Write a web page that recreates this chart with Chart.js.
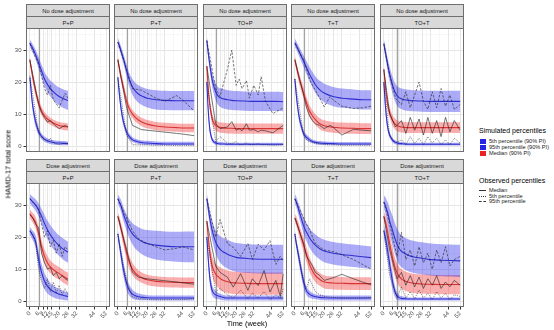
<!DOCTYPE html>
<html><head><meta charset="utf-8">
<script src="https://cdn.jsdelivr.net/npm/chart.js@4.4.1/dist/chart.umd.min.js"></script>
<style>
body{margin:0;background:#fff;width:554px;height:330px;overflow:hidden;position:relative;font-family:"Liberation Sans",Arial,sans-serif;}
canvas{position:absolute;}
.strip{position:absolute;box-sizing:border-box;background:#D9D9D9;border:1px solid #6E6E6E;color:#1A1A1A;font-size:5.8px;display:flex;align-items:center;justify-content:center;white-space:nowrap;}
.txt{position:absolute;white-space:nowrap;color:#000;}
.key{position:absolute;width:6px;height:5px;}
.lkey{position:absolute;width:7px;height:0;}
.lab{position:absolute;font-size:5.6px;line-height:6px;white-space:nowrap;color:#1A1A1A;}
</style></head><body>
<script>
// ---------------- data ----------------
const rowLabels = ["No dose adjustment", "Dose adjustment"];
const colLabels = ["P+P", "P+T", "TO+P", "T+T", "TO+T"];
const xMajorTicks = [0, 6, 9, 12, 15, 20, 26, 32, 44, 52];
const xMinorTicks = [3, 7.5, 10.5, 13.5, 17.5, 23, 29, 38, 48];
const yMajorTicks = [0, 10, 20, 30];
const yMinorTicks = [5, 15, 25, 35];
const refWeeks = [6, 6, 6, 6, 9];

const W26 = [0, 2, 4, 6, 8, 10, 12, 14, 17, 20, 23, 26];
const W52 = [0, 1, 2, 3, 4, 6, 8, 10, 12, 14, 17, 20, 26, 32, 40, 46, 52];

// No dose adjustment, P+P
const ndPP_p95 = [32.2, 30.5, 28.5, 26, 23.5, 21, 19.3, 18, 16.6, 15.5, 14.8, 14.3];
const ndPP_p95lo = [31, 29.2, 27, 24.2, 21.5, 18.8, 16.9, 15.5, 13.9, 12.7, 11.9, 11.3];
const ndPP_p95hi = [33.4, 31.8, 30, 27.8, 25.5, 23.2, 21.7, 20.5, 19.3, 18.3, 17.7, 17.3];
const ndPP_p50 = [27, 21.5, 17, 13.5, 11, 9.5, 8.5, 7.8, 7, 6.5, 6.2, 6];
const ndPP_p50lo = [25.8, 20.1, 15.5, 12.1, 9.7, 8.3, 7.3, 6.7, 5.9, 5.4, 5.1, 4.9];
const ndPP_p50hi = [28.2, 22.9, 18.5, 14.9, 12.3, 10.7, 9.7, 8.9, 8.1, 7.6, 7.3, 7.1];
const ndPP_p5 = [21.5, 12.5, 7.5, 4.6, 3.1, 2.2, 1.7, 1.4, 1.1, 1, 0.9, 0.8];
const ndPP_p5lo = [20.2, 10.8, 6, 3.5, 2.2, 1.4, 1, 0.7, 0.5, 0.4, 0.3, 0.3];
const ndPP_p5hi = [22.8, 14.2, 9, 5.8, 4, 3, 2.5, 2.1, 1.8, 1.7, 1.6, 1.5];
const ndPP_obsW = [0, 6, 8, 10, 12, 14, 16, 20, 24, 26];
const ndPP_obs95 = [32, 25.5, 22, 18, 16, 19, 14.5, 12, 16.5, 15];
const ndPP_obsMed = [27, 13, 10.5, 9, 7.5, 8, 7, 5.5, 6.5, 6];
const ndPP_obs5 = [22, 4, 3, 2, 1.5, 2.5, 1, 0.5, 1, 0.8];

// No dose adjustment, P+T
const ndPT_p95 = [32.5, 31.5, 30, 28.5, 27, 23.5, 20.5, 18.5, 17.2, 16.3, 15.5, 15, 14.5, 14.3, 14.2, 14.2, 14.2];
const ndPT_p95lo = [31.2, 30.2, 28.6, 27, 25.4, 21.6, 18.3, 16.1, 14.6, 13.6, 12.7, 12.1, 11.5, 11.3, 11.2, 11.2, 11.2];
const ndPT_p95hi = [33.8, 32.8, 31.4, 30, 28.6, 25.4, 22.7, 20.9, 19.8, 19, 18.3, 17.9, 17.5, 17.3, 17.2, 17.2, 17.2];
const ndPT_p50 = [27, 24.5, 22, 20, 18, 14, 11.5, 10, 9, 8.2, 7.4, 6.9, 6.3, 6, 5.8, 5.7, 5.7];
const ndPT_p50lo = [25.8, 23.2, 20.6, 18.5, 16.5, 12.5, 10.1, 8.7, 7.7, 6.9, 6.1, 5.6, 5, 4.7, 4.5, 4.4, 4.4];
const ndPT_p50hi = [28.2, 25.8, 23.4, 21.5, 19.5, 15.5, 12.9, 11.3, 10.3, 9.5, 8.7, 8.2, 7.6, 7.3, 7.1, 7, 7];
const ndPT_p5 = [21.5, 16.5, 12.5, 9.5, 7.3, 4.4, 2.9, 2, 1.6, 1.3, 1.1, 1, 0.8, 0.7, 0.7, 0.7, 0.7];
const ndPT_p5lo = [20.2, 15, 11, 8.1, 6, 3.4, 2, 1.3, 1, 0.7, 0.5, 0.4, 0.3, 0.3, 0.3, 0.3, 0.3];
const ndPT_p5hi = [22.8, 18, 14, 11, 8.6, 5.5, 3.8, 2.8, 2.3, 2, 1.8, 1.7, 1.5, 1.4, 1.4, 1.4, 1.4];
const ndPT_obsW = [0, 6, 10, 16, 20, 26, 32, 40, 44, 52];
const ndPT_obs95 = [32.5, 24, 18, 17.5, 16.5, 15, 14, 15.8, 14.5, 11];
const ndPT_obsMed = [27, 12, 6.5, 5.2, 5, 4.7, 4.4, 4, 3.8, 3.3];
const ndPT_obs5 = [21.5, 3.5, 0.5, 0.4, 0.4, 0.3, 0.3, 0.2, 0.2, 0.2];

// No dose adjustment, TO+P
const ndTOP_p95 = [33, 29, 25.5, 22.5, 20, 17, 15.5, 15, 14.7, 14.5, 14.3, 14.2, 14.1, 14, 14, 14, 13.9];
const ndTOP_p95lo = [31.5, 27.4, 23.7, 20.5, 17.8, 14.4, 12.7, 12, 11.7, 11.5, 11.3, 11.2, 11.1, 11, 11, 11, 10.9];
const ndTOP_p95hi = [34.5, 30.6, 27.3, 24.5, 22.2, 19.6, 18.3, 18, 17.7, 17.5, 17.3, 17.2, 17.1, 17, 17, 17, 16.9];
const ndTOP_p50 = [25, 18, 13, 10, 8, 6.5, 6, 5.8, 5.7, 5.6, 5.6, 5.5, 5.5, 5.5, 5.5, 5.5, 5.5];
const ndTOP_p50lo = [23.5, 16.4, 11.4, 8.4, 6.4, 4.9, 4.4, 4.2, 4.1, 4, 4, 3.9, 3.9, 3.9, 3.9, 3.9, 3.9];
const ndTOP_p50hi = [26.5, 19.6, 14.6, 11.6, 9.6, 8.1, 7.6, 7.4, 7.3, 7.2, 7.2, 7.1, 7.1, 7.1, 7.1, 7.1, 7.1];
const ndTOP_p5 = [20, 11, 5.5, 3, 1.8, 1, 0.8, 0.7, 0.7, 0.6, 0.6, 0.6, 0.6, 0.6, 0.6, 0.6, 0.6];
const ndTOP_p5lo = [18.5, 9.5, 4.3, 2.1, 1.1, 0.5, 0.3, 0.3, 0.3, 0.2, 0.2, 0.2, 0.2, 0.2, 0.2, 0.2, 0.2];
const ndTOP_p5hi = [21.5, 12.5, 6.8, 4, 2.6, 1.6, 1.4, 1.3, 1.2, 1.1, 1.1, 1.1, 1.1, 1.1, 1.1, 1.1, 1.1];
const ndTOP_obsW = [0, 6, 9, 14, 17, 20, 22, 24, 27, 29, 32, 35, 37, 40, 45, 52];
const ndTOP_obs95 = [33, 18, 15.5, 24, 30, 19, 21, 18, 20.5, 15, 19, 16, 21.7, 14, 10.2, 12];
const ndTOP_obsMed = [25, 7, 5.5, 6, 7.7, 5, 5.5, 4.8, 7, 5, 5.2, 4.5, 5, 4.8, 4.2, 6.5];
const ndTOP_obs5 = [20, 1.5, 3, 1, 0.8, 1.5, 0.5, 0.5, 1, 0.5, 0.5, 0.8, 0.5, 0.5, 0.3, 0.5];

// No dose adjustment, T+T
const ndTT_p95 = [32.3, 31.5, 30.5, 29.5, 28.5, 26.5, 24.5, 22.5, 20.8, 19.2, 17.6, 16.6, 15.5, 15, 14.7, 14.5, 14.5];
const ndTT_p95lo = [31, 30.2, 29.1, 28, 26.9, 24.7, 22.5, 20.3, 18.4, 16.6, 14.8, 13.7, 12.5, 12, 11.7, 11.5, 11.5];
const ndTT_p95hi = [33.6, 32.8, 31.9, 31, 30.1, 28.3, 26.5, 24.7, 23.2, 21.8, 20.4, 19.5, 18.5, 18, 17.7, 17.5, 17.5];
const ndTT_p50 = [27, 25, 23, 21, 19.5, 16.5, 13.5, 11, 9.5, 8.3, 7, 6.4, 5.9, 5.7, 5.6, 5.5, 5.5];
const ndTT_p50lo = [25.7, 23.6, 21.5, 19.4, 17.8, 14.7, 11.7, 9.2, 7.8, 6.6, 5.3, 4.7, 4.2, 4, 3.9, 3.8, 3.8];
const ndTT_p50hi = [28.3, 26.4, 24.5, 22.6, 21.2, 18.3, 15.3, 12.8, 11.2, 10, 8.7, 8.1, 7.6, 7.4, 7.3, 7.2, 7.2];
const ndTT_p5 = [21, 16, 12, 9, 7, 4, 2.8, 2, 1.5, 1.2, 1, 0.9, 0.8, 0.7, 0.7, 0.7, 0.7];
const ndTT_p5lo = [19.7, 14.5, 10.5, 7.6, 5.7, 3, 1.9, 1.3, 0.9, 0.6, 0.4, 0.4, 0.3, 0.3, 0.3, 0.3, 0.3];
const ndTT_p5hi = [22.3, 17.5, 13.5, 10.4, 8.3, 5, 3.7, 2.8, 2.1, 1.8, 1.6, 1.5, 1.4, 1.3, 1.3, 1.3, 1.3];
const ndTT_obsW = [0, 6, 8, 10, 12, 14, 17, 20, 24, 26, 32, 40, 46, 52];
const ndTT_obs95 = [32, 27, 24, 21, 19, 17.5, 15, 12.3, 15.5, 14.5, 12.5, 11.8, 12, 12.5];
const ndTT_obsMed = [27, 16, 12, 9.5, 8, 7, 6.5, 5.5, 6.5, 6, 3.5, 5.3, 5, 4.8];
const ndTT_obs5 = [21, 3.5, 2, 1.5, 1.2, 1, 0.8, 0.5, 0.5, 0.5, 0.3, 0.3, 0.3, 0.3];

// No dose adjustment, TO+T
const ndTOT_p95 = [32, 29.5, 27, 24.5, 22.5, 19, 16.5, 15.3, 14.8, 14.5, 14.3, 14.2, 14.1, 14, 14, 14, 14];
const ndTOT_p95lo = [30.5, 27.8, 25.1, 22.4, 20.2, 16.4, 13.6, 12.2, 11.6, 11.2, 11, 10.9, 10.8, 10.7, 10.7, 10.7, 10.7];
const ndTOT_p95hi = [33.5, 31.2, 28.9, 26.6, 24.8, 21.6, 19.4, 18.4, 18, 17.8, 17.6, 17.5, 17.4, 17.3, 17.3, 17.3, 17.3];
const ndTOT_p50 = [24, 19, 15, 12, 10.5, 8, 6.8, 6.2, 6, 5.9, 5.8, 5.8, 5.8, 5.8, 5.8, 5.8, 5.8];
const ndTOT_p50lo = [22.5, 17.4, 13.3, 10.3, 8.8, 6.3, 5.1, 4.5, 4.3, 4.2, 4.1, 4.1, 4.1, 4.1, 4.1, 4.1, 4.1];
const ndTOT_p50hi = [25.5, 20.6, 16.7, 13.7, 12.2, 9.7, 8.5, 7.9, 7.7, 7.6, 7.5, 7.5, 7.5, 7.5, 7.5, 7.5, 7.5];
const ndTOT_p5 = [20, 13, 8, 5, 3.5, 1.9, 1.2, 0.9, 0.8, 0.7, 0.6, 0.6, 0.6, 0.6, 0.6, 0.6, 0.6];
const ndTOT_p5lo = [18.5, 11.5, 6.7, 4, 2.6, 1.2, 0.6, 0.4, 0.3, 0.3, 0.2, 0.2, 0.2, 0.2, 0.2, 0.2, 0.2];
const ndTOT_p5hi = [21.5, 14.5, 9.3, 6, 4.4, 2.6, 1.8, 1.4, 1.3, 1.2, 1.1, 1.1, 1.1, 1.1, 1.1, 1.1, 1.1];
const ndTOT_obsW = [0, 4, 8, 12, 15, 18, 21, 24, 27, 30, 33, 36, 39, 42, 45, 48, 52];
const ndTOT_obs95 = [32, 22, 15, 13, 17, 12, 16, 20, 14, 11.5, 17, 12, 18, 12.5, 16, 11.5, 13];
const ndTOT_obsMed = [24, 10, 6, 8, 4, 9, 5, 8.5, 3.5, 9, 4, 8, 3, 9, 4.5, 8, 5];
const ndTOT_obs5 = [20, 3, 1, 2, 0.5, 3, 0.8, 2.5, 0.5, 3, 1, 2.5, 0.5, 2, 0.5, 2.5, 1];

// Dose adjustment, P+P
const daPP_p95 = [32, 31, 30, 28.5, 26.5, 24.3, 22.3, 20.7, 18.8, 17.3, 16.2, 15.3];
const daPP_p95lo = [30.5, 29.4, 28.2, 26.5, 24.2, 21.7, 19.5, 17.7, 15.7, 14.1, 12.9, 12];
const daPP_p95hi = [33.5, 32.6, 31.8, 30.5, 28.8, 26.9, 25.1, 23.7, 21.9, 20.5, 19.5, 18.6];
const daPP_p50 = [27.3, 26, 24.5, 21, 17, 14, 12, 10.7, 9.5, 8.7, 7.7, 6.9];
const daPP_p50lo = [26, 24.5, 22.7, 19, 14.8, 11.8, 9.9, 8.7, 7.5, 6.7, 5.7, 4.9];
const daPP_p50hi = [28.6, 27.5, 26.3, 23, 19.2, 16.2, 14.1, 12.7, 11.5, 10.7, 9.7, 8.9];
const daPP_p5 = [22, 20.5, 18.5, 13, 9, 6.3, 4.7, 3.7, 2.8, 2.2, 1.8, 1.5];
const daPP_p5lo = [20.8, 19, 16.5, 10.5, 6.4, 3.8, 2.4, 1.7, 1, 0.6, 0.4, 0.2];
const daPP_p5hi = [23.2, 22, 20.5, 15.5, 11.6, 8.8, 7, 5.7, 4.6, 3.8, 3.2, 2.8];
const daPP_obsW = [0, 2, 4, 6, 8, 10, 12, 14, 16, 18, 20, 22, 24, 26];
const daPP_obs95 = [32, 31, 30, 28.5, 24, 20, 22, 17, 19, 15, 18, 14, 17, 16];
const daPP_obsMed = [27, 26, 24, 23, 15, 12, 10, 10.5, 8, 9, 7, 8, 7, 6.5];
const daPP_obs5 = [22, 21, 18, 10, 6, 4, 7, 3, 6, 2.5, 5, 2, 4, 2];

// Dose adjustment, P+T
const daPT_p95 = [32, 31, 30, 28.5, 27, 24.5, 22.5, 21, 20, 19.3, 18.5, 18, 17.5, 17.2, 17, 17, 17];
const daPT_p95lo = [30.5, 29.4, 28.2, 26.5, 24.8, 21.9, 19.5, 17.7, 16.4, 15.5, 14.5, 13.8, 13, 12.6, 12.3, 12.2, 12.2];
const daPT_p95hi = [33.5, 32.6, 31.8, 30.5, 29.2, 27.1, 25.5, 24.3, 23.6, 23.1, 22.5, 22.2, 22, 21.8, 21.7, 21.8, 21.8];
const daPT_p50 = [26.5, 25, 23, 21, 19, 15, 12, 10, 8.8, 8, 7.2, 6.7, 6.2, 6, 5.9, 5.8, 5.8];
const daPT_p50lo = [25.2, 23.5, 21.3, 19.1, 17, 12.9, 10, 8.1, 7, 6.3, 5.6, 5.1, 4.6, 4.4, 4.3, 4.2, 4.2];
const daPT_p50hi = [27.8, 26.5, 24.7, 22.9, 21, 17.1, 14, 11.9, 10.6, 9.7, 8.8, 8.3, 7.8, 7.6, 7.5, 7.4, 7.4];
const daPT_p5 = [21, 18, 15, 12, 9.5, 5.5, 3.3, 2.2, 1.7, 1.4, 1.2, 1.1, 1, 1, 1, 1, 1];
const daPT_p5lo = [19.8, 16.5, 13.2, 10, 7.4, 3.5, 1.6, 0.8, 0.5, 0.4, 0.3, 0.3, 0.2, 0.2, 0.2, 0.2, 0.2];
const daPT_p5hi = [22.2, 19.5, 16.8, 14, 11.6, 7.5, 5, 3.6, 2.9, 2.4, 2.1, 1.9, 1.8, 1.8, 1.8, 1.8, 1.8];
const daPT_obsW = [0, 6, 10, 14, 20, 26, 32, 40, 44, 52];
const daPT_obs95 = [32, 26, 22, 19.5, 18, 17, 16, 16.5, 17, 16];
const daPT_obsMed = [26.5, 16, 9, 7.5, 7, 6.7, 6.4, 6, 5.8, 5.3];
const daPT_obs5 = [21, 6, 1.5, 0.8, 0.6, 0.5, 0.5, 0.5, 0.5, 0.8];

// Dose adjustment, TO+P
const daTOP_p95 = [32, 29, 26, 23.5, 21.5, 18.5, 16.8, 15.8, 15.2, 14.7, 14.1, 13.7, 13.4, 13.2, 13.1, 13.1, 13.1];
const daTOP_p95lo = [30.4, 27, 23.6, 20.7, 18.4, 14.9, 12.8, 11.6, 10.8, 10.2, 9.6, 9.2, 8.9, 8.7, 8.6, 8.6, 8.6];
const daTOP_p95hi = [33.6, 31, 28.4, 26.3, 24.6, 22.1, 20.8, 20, 19.6, 19.2, 18.6, 18.2, 17.9, 17.7, 17.6, 17.6, 17.6];
const daTOP_p50 = [25, 20, 15.5, 12.5, 10.5, 8.5, 7.5, 6.8, 6.4, 6.1, 5.8, 5.7, 5.6, 5.5, 5.5, 5.5, 5.5];
const daTOP_p50lo = [23.4, 18, 13, 9.7, 7.5, 5.3, 4.1, 3.3, 2.9, 2.6, 2.3, 2.2, 2.1, 2, 2, 2, 2];
const daTOP_p50hi = [26.6, 22, 18, 15.3, 13.5, 11.7, 10.9, 10.3, 9.9, 9.6, 9.3, 9.2, 9.1, 9, 9, 9, 9];
const daTOP_p5 = [20, 13, 7.5, 4.5, 3, 2, 1.6, 1.3, 1.1, 1, 1, 1, 1, 1, 1, 1, 1];
const daTOP_p5lo = [18.5, 11, 5.5, 2.7, 1.5, 0.8, 0.6, 0.4, 0.3, 0.2, 0.2, 0.2, 0.2, 0.2, 0.2, 0.2, 0.2];
const daTOP_p5hi = [21.5, 15, 9.5, 6.3, 4.5, 3.2, 2.6, 2.2, 1.9, 1.8, 1.8, 1.8, 1.8, 1.8, 1.8, 1.8, 1.8];
const daTOP_obsW = [0, 6, 9, 14, 18, 23, 28, 31, 35, 39, 43, 47, 50, 52];
const daTOP_obs95 = [32, 20, 25.5, 18, 16.8, 14, 18, 13, 17.8, 16, 18.9, 11.5, 14, 12.6];
const daTOP_obsMed = [25, 11, 9, 7.5, 4.4, 8.6, 3.4, 7, 4.9, 9.6, 2.9, 6.5, 1.5, 8.5];
const daTOP_obs5 = [20, 3, 4, 2, 1, 3.5, 0.8, 2.5, 1, 3, 0.5, 2, 1, 4];

// Dose adjustment, T+T
const daTT_p95 = [32, 31, 29.5, 28, 26.5, 23.5, 21.5, 19.8, 18.5, 17.5, 16.4, 15.7, 15, 14.6, 14.2, 13.9, 13.6];
const daTT_p95lo = [30.5, 29.4, 27.7, 26, 24.3, 21, 18.7, 16.8, 15.3, 14.2, 13, 12.2, 11.5, 11.1, 10.7, 10.4, 10.1];
const daTT_p95hi = [33.5, 32.6, 31.3, 30, 28.7, 26, 24.3, 22.8, 21.7, 20.8, 19.8, 19.2, 18.5, 18.1, 17.7, 17.4, 17.1];
const daTT_p50 = [26, 25, 23.5, 22, 20.5, 17.5, 14.5, 11.5, 9.5, 8, 6.8, 6, 5.7, 5.6, 5.5, 5.5, 5.5];
const daTT_p50lo = [24.7, 23.5, 21.8, 20.1, 18.5, 15.3, 12.2, 9.2, 7.3, 5.9, 4.8, 4, 3.7, 3.6, 3.5, 3.5, 3.5];
const daTT_p50hi = [27.3, 26.5, 25.2, 23.9, 22.5, 19.7, 16.8, 13.8, 11.7, 10.1, 8.8, 8, 7.7, 7.6, 7.5, 7.5, 7.5];
const daTT_p5 = [21, 18, 15.5, 13, 10.5, 6, 3.2, 2.2, 1.7, 1.4, 1.2, 1.1, 1, 1, 1, 1, 1];
const daTT_p5lo = [19.8, 16.6, 13.8, 11.1, 8.5, 4.2, 1.9, 1.1, 0.8, 0.6, 0.4, 0.3, 0.2, 0.2, 0.2, 0.2, 0.2];
const daTT_p5hi = [22.2, 19.4, 17.2, 14.9, 12.5, 7.8, 4.5, 3.3, 2.6, 2.2, 2, 1.9, 1.8, 1.8, 1.8, 1.8, 1.8];
const daTT_obsW = [0, 6, 8, 10, 12, 14, 17, 20, 26, 32, 40, 46, 52];
const daTT_obs95 = [32, 26, 24, 22.5, 20, 18, 17, 16, 15.5, 14.5, 13, 11.5, 10];
const daTT_obsMed = [26, 18, 14, 12.6, 11, 9, 8, 6.5, 7.3, 8.4, 7, 6, 5.1];
const daTT_obs5 = [21, 6, 4, 7, 5, 3, 2, 1.5, 1.2, 1, 1, 1, 1.2];

// Dose adjustment, TO+T
const daTOT_p95 = [31, 30, 28.5, 27, 25, 22, 19, 16.8, 15.6, 15, 14.3, 13.9, 13.4, 13, 12.8, 12.7, 12.6];
const daTOT_p95lo = [29, 27.5, 25.5, 23.5, 21, 17.5, 14.2, 11.8, 10.6, 10, 9.3, 8.9, 8.4, 8, 7.8, 7.7, 7.6];
const daTOT_p95hi = [33, 32.5, 31.5, 30.5, 29, 26.5, 23.8, 21.8, 20.6, 20, 19.3, 18.9, 18.4, 18, 17.8, 17.7, 17.6];
const daTOT_p50 = [26.5, 25, 23, 20.5, 18, 13.5, 10, 8, 7, 6.4, 5.9, 5.6, 5.4, 5.3, 5.2, 5.2, 5.2];
const daTOT_p50lo = [25, 23, 20.5, 17.5, 15, 10.5, 7, 5, 4, 3.4, 2.9, 2.6, 2.4, 2.3, 2.2, 2.2, 2.2];
const daTOT_p50hi = [28, 27, 25.5, 23.5, 21, 16.5, 13, 11, 10, 9.4, 8.9, 8.6, 8.4, 8.3, 8.2, 8.2, 8.2];
const daTOT_p5 = [22, 20, 17.5, 14.5, 11.5, 6, 2.5, 1.2, 0.9, 0.8, 0.7, 0.7, 0.7, 0.7, 0.7, 0.7, 0.7];
const daTOT_p5lo = [20, 17.5, 14.5, 11.5, 8.5, 3.5, 1, 0.3, 0.2, 0.2, 0.2, 0.2, 0.2, 0.2, 0.2, 0.2, 0.2];
const daTOT_p5hi = [24, 22.5, 20.5, 17.5, 14.5, 8.5, 4, 2.1, 1.6, 1.4, 1.2, 1.2, 1.2, 1.2, 1.2, 1.2, 1.2];
const daTOT_obsW = [0, 4, 9, 12, 15, 18, 21, 24, 27, 30, 33, 36, 39, 42, 45, 48, 52];
const daTOT_obs95 = [31, 24, 14, 21.5, 13, 16, 11, 17, 12, 15, 10, 16, 12, 17, 11, 13, 14];
const daTOT_obsMed = [26.5, 16, 7, 9, 5, 8, 4.5, 7.5, 4, 7, 5, 8, 4, 6, 4.5, 6.5, 5];
const daTOT_obs5 = [22, 8, 1, 4.5, 1, 3, 0.8, 3.5, 1, 2.5, 0.5, 3, 1, 2.5, 0.5, 2, 1.5];

// ---------------- panel table built from the arrays ----------------
function P(w, p5, p5lo, p5hi, p50, p50lo, p50hi, p95, p95lo, p95hi, ow, om, o5, o95) {
  return {w, p5, p5lo, p5hi, p50, p50lo, p50hi, p95, p95lo, p95hi, ow, om, o5, o95};
}
const panelRows = [
  [
    P(W26, ndPP_p5, ndPP_p5lo, ndPP_p5hi, ndPP_p50, ndPP_p50lo, ndPP_p50hi, ndPP_p95, ndPP_p95lo, ndPP_p95hi, ndPP_obsW, ndPP_obsMed, ndPP_obs5, ndPP_obs95),
    P(W52, ndPT_p5, ndPT_p5lo, ndPT_p5hi, ndPT_p50, ndPT_p50lo, ndPT_p50hi, ndPT_p95, ndPT_p95lo, ndPT_p95hi, ndPT_obsW, ndPT_obsMed, ndPT_obs5, ndPT_obs95),
    P(W52, ndTOP_p5, ndTOP_p5lo, ndTOP_p5hi, ndTOP_p50, ndTOP_p50lo, ndTOP_p50hi, ndTOP_p95, ndTOP_p95lo, ndTOP_p95hi, ndTOP_obsW, ndTOP_obsMed, ndTOP_obs5, ndTOP_obs95),
    P(W52, ndTT_p5, ndTT_p5lo, ndTT_p5hi, ndTT_p50, ndTT_p50lo, ndTT_p50hi, ndTT_p95, ndTT_p95lo, ndTT_p95hi, ndTT_obsW, ndTT_obsMed, ndTT_obs5, ndTT_obs95),
    P(W52, ndTOT_p5, ndTOT_p5lo, ndTOT_p5hi, ndTOT_p50, ndTOT_p50lo, ndTOT_p50hi, ndTOT_p95, ndTOT_p95lo, ndTOT_p95hi, ndTOT_obsW, ndTOT_obsMed, ndTOT_obs5, ndTOT_obs95)
  ],
  [
    P(W26, daPP_p5, daPP_p5lo, daPP_p5hi, daPP_p50, daPP_p50lo, daPP_p50hi, daPP_p95, daPP_p95lo, daPP_p95hi, daPP_obsW, daPP_obsMed, daPP_obs5, daPP_obs95),
    P(W52, daPT_p5, daPT_p5lo, daPT_p5hi, daPT_p50, daPT_p50lo, daPT_p50hi, daPT_p95, daPT_p95lo, daPT_p95hi, daPT_obsW, daPT_obsMed, daPT_obs5, daPT_obs95),
    P(W52, daTOP_p5, daTOP_p5lo, daTOP_p5hi, daTOP_p50, daTOP_p50lo, daTOP_p50hi, daTOP_p95, daTOP_p95lo, daTOP_p95hi, daTOP_obsW, daTOP_obsMed, daTOP_obs5, daTOP_obs95),
    P(W52, daTT_p5, daTT_p5lo, daTT_p5hi, daTT_p50, daTT_p50lo, daTT_p50hi, daTT_p95, daTT_p95lo, daTT_p95hi, daTT_obsW, daTT_obsMed, daTT_obs5, daTT_obs95),
    P(W52, daTOT_p5, daTOT_p5lo, daTOT_p5hi, daTOT_p50, daTOT_p50lo, daTOT_p50hi, daTOT_p95, daTOT_p95lo, daTOT_p95hi, daTOT_obsW, daTOT_obsMed, daTOT_obs5, daTOT_obs95)
  ]
];

// ---------------- styling / layout ----------------
const FONT = '"Liberation Sans", Arial, sans-serif';
const BLUE = '#2F2FCF', RED = '#D93232', OBS = '#1E1E1E';
const BLUE_BAND = 'rgba(35,35,235,0.38)', RED_BAND = 'rgba(240,30,30,0.36)';
const COL_X = [26, 114, 203, 291, 380];
const ROW_Y = [28, 183];
const PW = 84, PH = 124, STRIP_H = 12, XAX_H = 16;

const panelDeco = {
  id: 'panelDeco',
  beforeDatasetsDraw(chart, args, opts) {
    const {ctx, chartArea: a, scales: {x}} = chart;
    const px = Math.round(x.getPixelForValue(opts.refWeek)) + 0.5;
    ctx.save();
    ctx.strokeStyle = '#A3A3A3'; ctx.lineWidth = opts.refWidth;
    ctx.beginPath(); ctx.moveTo(px, a.top); ctx.lineTo(px, a.bottom); ctx.stroke();
    ctx.restore();
  },
  afterDraw(chart) {
    const {ctx, chartArea: a} = chart;
    ctx.save(); ctx.strokeStyle = '#6E6E6E'; ctx.lineWidth = 1;
    ctx.strokeRect(a.left + 0.5, a.top + 0.5, a.right - a.left - 1, a.bottom - a.top - 1);
    ctx.restore();
  }
};

const pts = (w, ys) => w.map((x, i) => ({x: x, y: ys[i]}));

function datasets(p) {
  const ds = [];
  const band = (lo, hi, col) => {
    ds.push({data: pts(p.w, lo), borderColor: 'rgba(0,0,0,0)', borderWidth: 0, pointRadius: 0, fill: false, cubicInterpolationMode: 'monotone', order: 3});
    ds.push({data: pts(p.w, hi), borderColor: 'rgba(0,0,0,0)', borderWidth: 0, pointRadius: 0, fill: '-1', backgroundColor: col, cubicInterpolationMode: 'monotone', order: 3});
  };
  band(p.p95lo, p.p95hi, BLUE_BAND);
  band(p.p5lo, p.p5hi, BLUE_BAND);
  band(p.p50lo, p.p50hi, RED_BAND);
  const line = (w, ys, col, bw, dash, order, smooth) => ds.push({
    data: pts(w, ys), borderColor: col, borderWidth: bw, borderDash: dash, pointRadius: 0, fill: false,
    cubicInterpolationMode: smooth ? 'monotone' : 'default', tension: 0, order: order
  });
  line(p.w, p.p95, BLUE, 1.1, [], 2, true);
  line(p.w, p.p5, BLUE, 1.1, [], 2, true);
  line(p.w, p.p50, RED, 1.1, [], 2, true);
  line(p.ow, p.om, OBS, 0.6, [], 1, false);
  line(p.ow, p.o5, OBS, 0.6, [1, 1.2], 1, false);
  line(p.ow, p.o95, OBS, 0.6, [2.5, 1.5], 1, false);
  return ds;
}

function makeStrip(text, left, top) {
  const d = document.createElement('div');
  d.className = 'strip';
  d.style.left = left + 'px'; d.style.top = top + 'px';
  d.style.width = PW + 'px'; d.style.height = (STRIP_H + 1) + 'px';
  d.textContent = text;
  document.body.appendChild(d);
}

for (let r = 0; r < 2; r++) {
  for (let c = 0; c < 5; c++) {
    const left = c === 0 ? 0 : COL_X[c];
    const yW = c === 0 ? COL_X[0] : 0;
    const xH = r === 1 ? XAX_H : 0;
    const cv = document.createElement('canvas');
    cv.width = yW + PW; cv.height = PH + xH;
    cv.style.left = left + 'px'; cv.style.top = ROW_Y[r] + 'px';
    cv.style.width = cv.width + 'px'; cv.style.height = cv.height + 'px';
    document.body.appendChild(cv);

    makeStrip(rowLabels[r], COL_X[c], ROW_Y[r] - 2 * STRIP_H);
    makeStrip(colLabels[c], COL_X[c], ROW_Y[r] - STRIP_H);

    const isMajX = v => xMajorTicks.includes(v);
    const isMajY = v => yMajorTicks.includes(v);
    new Chart(cv, {
      type: 'line',
      data: {datasets: datasets(panelRows[r][c])},
      plugins: [panelDeco],
      options: {
        responsive: false, maintainAspectRatio: false, animation: false, events: [],
        layout: {padding: 0},
        plugins: {legend: {display: false}, tooltip: {enabled: false},
          panelDeco: {refWeek: refWeeks[c], refWidth: c === 4 ? 1.6 : 1}},
        scales: {
          x: {
            type: 'linear', min: -2.6, max: 54.6,
            afterBuildTicks: s => { s.ticks = xMajorTicks.concat(xMinorTicks).sort((a, b) => a - b).map(v => ({value: v})); },
            ticks: {display: r === 1, autoSkip: false, minRotation: 45, maxRotation: 45, padding: 0.5,
              color: '#4D4D4D', font: {family: FONT, size: 6},
              callback: v => isMajX(v) ? String(v) : ''},
            grid: {display: true, drawTicks: r === 1, tickLength: 2.5,
              color: ctx => (ctx.tick && isMajX(ctx.tick.value)) ? '#E6E6E6' : '#F1F1F1',
              lineWidth: ctx => (ctx.tick && isMajX(ctx.tick.value)) ? 1 : 0.6,
              tickColor: ctx => (ctx.tick && isMajX(ctx.tick.value)) ? '#333333' : 'rgba(0,0,0,0)'},
            border: {display: false},
            afterFit: s => { s.paddingLeft = 0; s.paddingRight = 0; s.height = xH; }
          },
          y: {
            type: 'linear', min: -1.8, max: 36.9,
            afterBuildTicks: s => { s.ticks = yMajorTicks.concat(yMinorTicks).sort((a, b) => a - b).map(v => ({value: v})); },
            ticks: {display: c === 0, autoSkip: false, padding: 2, color: '#4D4D4D', font: {family: FONT, size: 6},
              callback: v => isMajY(v) ? String(v) : ''},
            grid: {display: true, drawTicks: c === 0, tickLength: 2.5,
              color: ctx => (ctx.tick && isMajY(ctx.tick.value)) ? '#E6E6E6' : '#F1F1F1',
              lineWidth: ctx => (ctx.tick && isMajY(ctx.tick.value)) ? 1 : 0.6,
              tickColor: ctx => (ctx.tick && isMajY(ctx.tick.value)) ? '#333333' : 'rgba(0,0,0,0)'},
            border: {display: false},
            afterFit: s => { s.paddingTop = 0; s.paddingBottom = 0; s.width = yW; }
          }
        }
      }
    });
  }
}

// ---------------- titles & legend ----------------
function txt(html, css) {
  const d = document.createElement('div'); d.className = 'txt'; d.style.cssText += css; d.textContent = html;
  document.body.appendChild(d); return d;
}
txt('HAMD-17 total score', 'left:8px;top:164px;font-size:7.4px;transform:translate(-50%,-50%) rotate(-90deg);');
txt('Time (week)', 'left:247px;top:323px;font-size:7.4px;transform:translate(-50%,-50%);');

const simLegend = [['5th percentile (90% PI)', BLUE, BLUE_BAND], ['95th percentile (90% PI)', BLUE, BLUE_BAND], ['Median (90% PI)', RED, RED_BAND]];
const obsLegend = [['Median', 'solid'], ['5th percentile', 'dotted'], ['95th percentile', 'dashed']];
txt('Simulated percentiles', 'left:479px;top:127px;font-size:7px;line-height:8px;');
simLegend.forEach((it, i) => {
  const y = 138.5 + i * 6.2;
  const k = document.createElement('div'); k.className = 'key';
  k.style.left = '480px'; k.style.top = y + 'px';
  k.style.background = `linear-gradient(${it[2]},${it[2]}), linear-gradient(${it[2]},${it[2]})`;
  k.style.boxShadow = `inset 0 2px 0 ${it[2]}, inset 0 -2px 0 ${it[2]}`;
  k.style.backgroundColor = it[1];
  document.body.appendChild(k);
  const l = document.createElement('div'); l.className = 'lab';
  l.style.left = '489px'; l.style.top = (y - 0.5) + 'px'; l.textContent = it[0];
  document.body.appendChild(l);
});
txt('Observed percentiles', 'left:479px;top:177px;font-size:7px;line-height:8px;');
obsLegend.forEach((it, i) => {
  const y = 190 + i * 5.6;
  const k = document.createElement('div'); k.className = 'lkey';
  k.style.left = '479px'; k.style.top = y + 'px';
  k.style.borderTop = `1px ${it[1]} #333`;
  document.body.appendChild(k);
  const l = document.createElement('div'); l.className = 'lab';
  l.style.left = '489px'; l.style.top = (y - 3) + 'px'; l.textContent = it[0];
  document.body.appendChild(l);
});
</script>
</body></html>
